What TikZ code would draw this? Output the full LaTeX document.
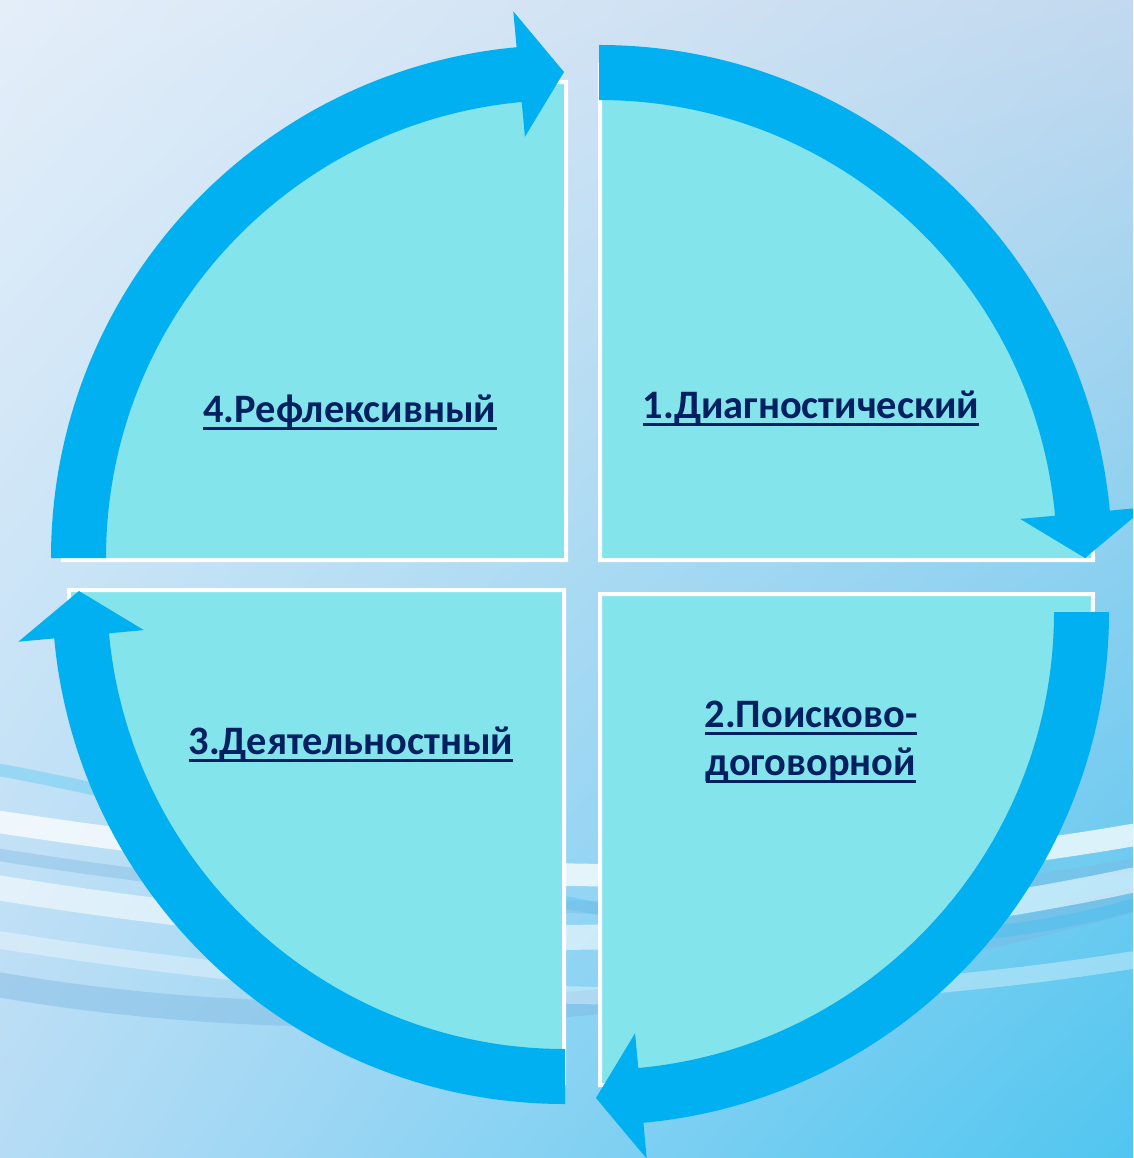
\documentclass[tikz,border=0pt]{standalone}
\usepackage{fontspec}
\setmainfont{Carlito}
\definecolor{mArrow}{HTML}{00B0F0}
\definecolor{mQuad}{HTML}{84E4EC}
\definecolor{mNavy}{HTML}{002060}
\definecolor{mBgTL}{HTML}{E4EEF9}
\definecolor{mBgTR}{HTML}{C2D9EF}
\definecolor{mBgBL}{HTML}{B6DCF5}
\definecolor{mBgBR}{HTML}{50C6F0}
\definecolor{mWaveDark}{HTML}{7DB8E2}
\definecolor{mWaveCyan}{HTML}{2FC0F0}
\newcommand{\stagebar}[1]{\leavevmode\setbox0\hbox{#1}\rlap{\rule[-4.4pt]{\wd0}{1.7pt}}\box0}
\usetikzlibrary{calc,shadings}

\begin{document}
\begin{tikzpicture}[x=0.02cm, y=-0.02cm,
  quad/.style={fill=mQuad, draw=white, line width=0.08cm},
  cyclearrow/.style={fill=mArrow},
  wave/.style={line width=#1, line cap=round},
  stage/.style={font=\fontsize{23}{27}\selectfont\bfseries, text=mNavy, align=center, inner sep=0pt, anchor=base}]
\useasboundingbox (0,0) rectangle (1133,1158);
\clip (0,0) rectangle (1133,1158);
\shade[upper left=mBgTL, upper right=mBgTR, lower left=mBgBL, lower right=mBgBR] (0,0) rectangle (1133,1158);
\draw[wave=0.5cm, mWaveDark, opacity=0.45] (0,985) .. controls (380,1050) and (760,1000) .. (1133,900);
\draw[wave=0.25cm, mWaveCyan, opacity=0.3] (0,770) .. controls (380,840) and (760,1010) .. (1133,905);
\draw[wave=0.45cm, white, opacity=0.75] (0,822) .. controls (380,880) and (760,900) .. (1133,835);
\draw[wave=0.25cm, mWaveDark, opacity=0.4] (0,855) .. controls (380,915) and (760,930) .. (1133,865);
\draw[wave=0.5cm, white, opacity=0.55] (0,888) .. controls (380,950) and (760,960) .. (1133,880);
\draw[wave=0.35cm, white, opacity=0.35] (0,940) .. controls (380,1000) and (760,1020) .. (1133,960);
\filldraw[quad] (600,560) -- (600,65) arc[start angle=-90, end angle=0, x radius=493, y radius=495] -- cycle;
\filldraw[quad] (600,594) -- (1093,594) arc[start angle=0, end angle=90, x radius=493, y radius=491] -- cycle;
\filldraw[quad] (564,590) -- (564,1083) arc[start angle=90, end angle=180, x radius=495, y radius=493] -- cycle;
\filldraw[quad] (566,560) -- (63,560) arc[start angle=180, end angle=270, x radius=503, y radius=478] -- cycle;
\foreach \cx/\cy/\a in {599/558/-90, 596/612/0, 565/591/90, 564/558/180} {
  \coordinate (c) at (\cx,\cy);
  \fill[cyclearrow] ($(c)+(\a:513)$) arc[start angle=\a, end angle=\a+84.7, radius=513]
    -- ($(c)+(\a+84.7:549)$) -- ($(c)+(\a+90:486)$) -- ($(c)+(\a+84.7:423)$)
    -- ($(c)+(\a+84.7:458)$) arc[start angle=\a+84.7, end angle=\a, radius=458] -- cycle;
}
\node[stage] (diag) at (811,418) {\stagebar{1.Диагностический}};
\node[stage] (poisk) at (811,775) {\stagebar{2.Поисково-}\\\stagebar{договорной}};
\node[stage] (deyat) at (351,754) {\stagebar{3.Деятельностный}};
\node[stage] (refl) at (350,422) {\stagebar{4.Рефлексивный}};
\end{tikzpicture}
\end{document}
